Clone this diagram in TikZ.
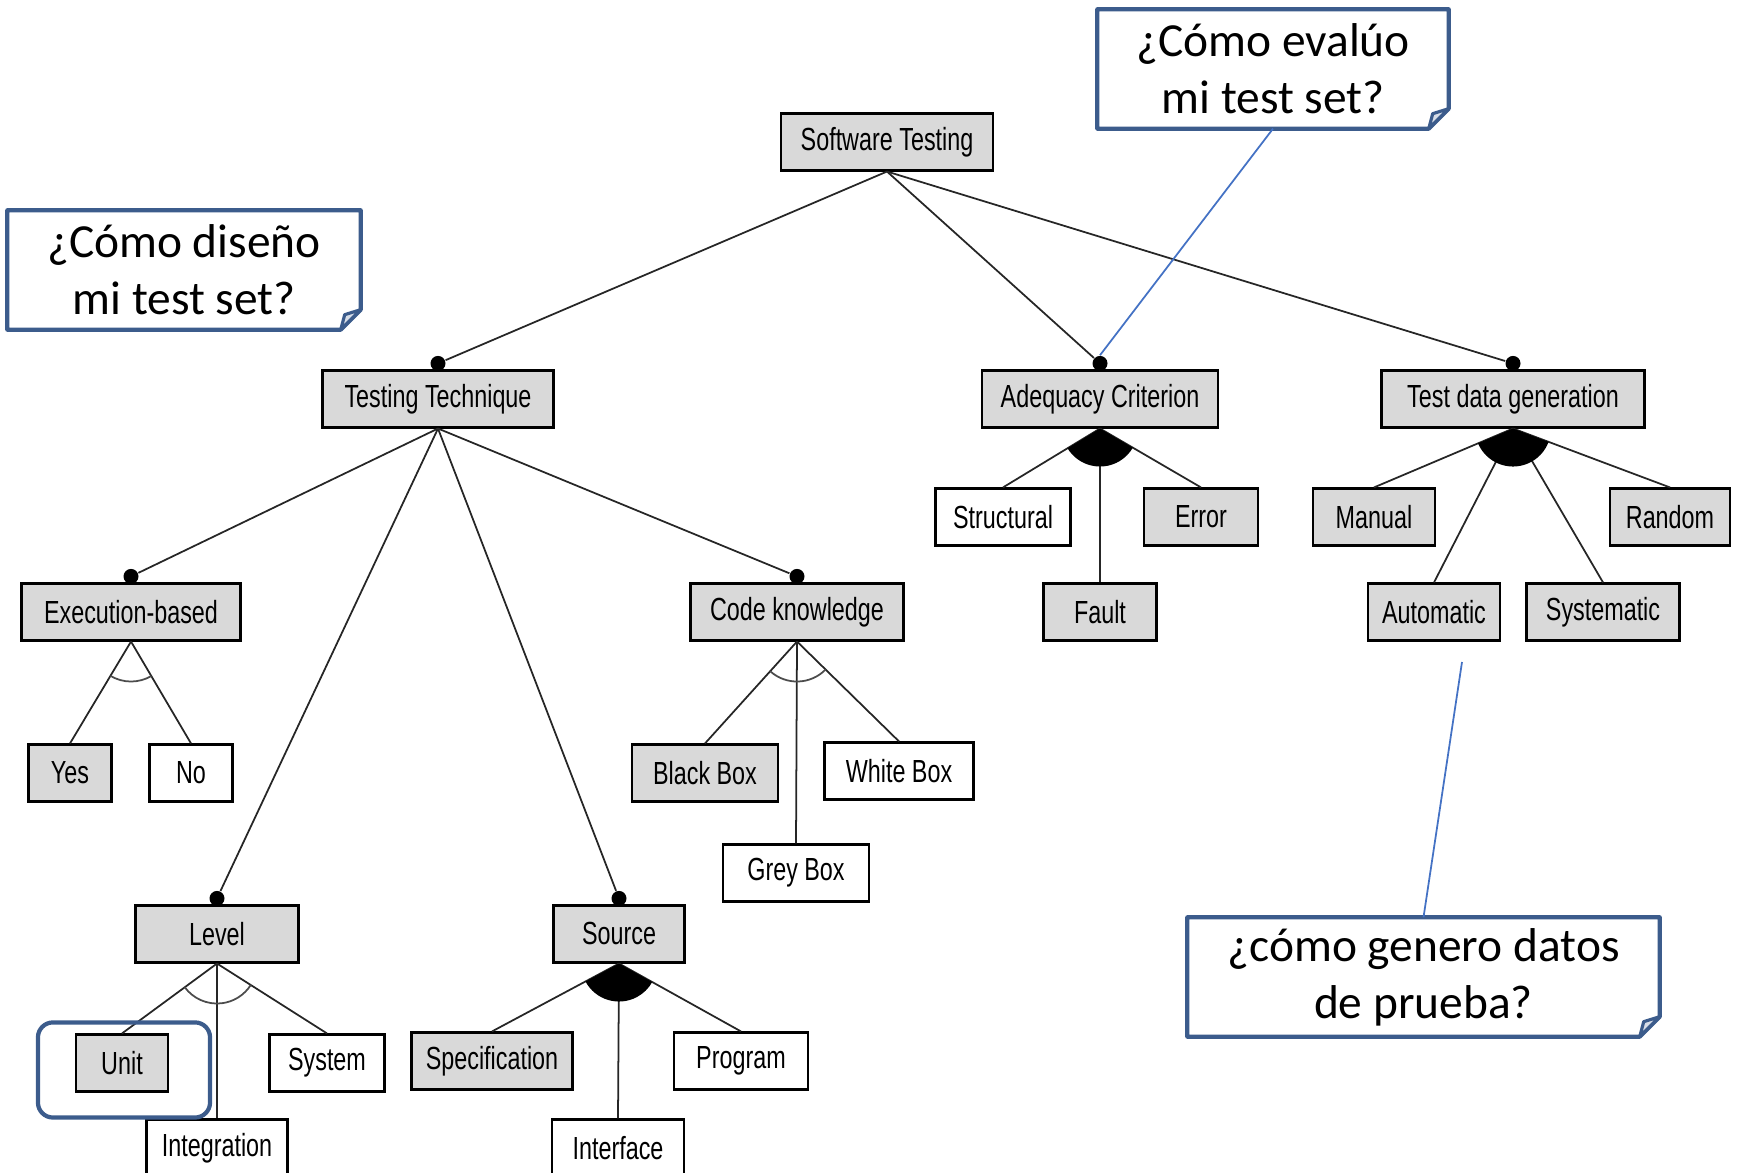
\documentclass[tikz,border=0pt]{standalone}
\usepackage{fontspec}
\usetikzlibrary{calc}
\newfontfamily\boxfont[FakeStretch=0.73]{Liberation Sans}
\newfontfamily\notefont{Carlito}
\definecolor{notecol}{RGB}{60,92,140}
\definecolor{linkcol}{RGB}{68,114,196}
\definecolor{boxgray}{RGB}{217,217,217}

\tikzset{
  feat/.style={draw, line width=0.6pt, inner sep=0pt, minimum height=0.57cm,
    font=\boxfont\fontsize{9.1}{11}\selectfont},
  on/.style={feat, fill=boxgray},
  off/.style={feat, fill=white},
  mand/.style={circle, fill=black, inner sep=0pt, minimum size=0.15cm},
  edge/.style={line width=0.5pt, black!85},
  note/.style={align=center, inner sep=0pt, minimum height=1.18cm,
    font=\notefont\fontsize{13.5}{16.2}\selectfont},
  link/.style={linkcol, line width=0.5pt}
}

% filled (or) and open (alternative) group marks
\newcommand{\orarc}[3]{\fill let \p1=($(#2.north)-(#1.south)$), \p2=($(#3.north)-(#1.south)$),
  \n1={atan2(\y1,\x1)}, \n2={atan2(\y2,\x2)} in
  (#1.south) -- ++(\n1:0.38) arc[start angle=\n1, end angle=\n2, radius=0.38] -- cycle;}
\newcommand{\altarc}[3]{\draw[black!70, line width=0.5pt] let \p1=($(#2.north)-(#1.south)$), \p2=($(#3.north)-(#1.south)$),
  \n1={atan2(\y1,\x1)}, \n2={atan2(\y2,\x2)} in
  ($(#1.south)+(\n1:0.4)$) arc[start angle=\n1, end angle=\n2, radius=0.4];}
% callout frame with folded corner
\newcommand{\notebox}[1]{\draw[notecol, line width=1.2pt, line join=round]
  (#1.north west) -- (#1.north east) -- ([yshift=0.2cm]#1.south east)
  -- ([xshift=-0.2cm]#1.south east) -- (#1.south west) -- cycle;
  \draw[notecol, line width=0.9pt, line join=round, fill=notecol!20]
  ([xshift=-0.2cm]#1.south east) -- ++(0.04,0.15) -- ([yshift=0.2cm]#1.south east) -- cycle;}

\begin{document}
\begin{tikzpicture}
		\useasboundingbox (0,0) rectangle (17.38,11.73);
		\clip (0,0) rectangle (17.38,11.73);
		
		% ROOT AND FIRST LEVEL
		\node[on, minimum width=2.12cm] (soft) at (8.87,10.31) {Software Testing};
		\node[on, minimum width=2.31cm] (tech) at (4.38,7.74) {Testing Technique};
		\node[on, minimum width=2.36cm] (adeq) at (11.00,7.74) {Adequacy Criterion};
		\node[on, minimum width=2.63cm] (tdg) at (15.13,7.74) {Test data generation};
		
		% ADEQUACY AND DATA GENERATION
		\node[off, minimum width=1.35cm] (struct) at (10.03,6.56) {Structural};
		\node[on, minimum width=1.14cm] (error) at (12.01,6.56) {Error};
		\node[on, minimum width=1.13cm] (fault) at (11.00,5.61) {Fault};
		\node[on, minimum width=1.22cm] (manual) at (13.74,6.56) {Manual};
		\node[on, minimum width=1.20cm] (random) at (16.70,6.56) {Random};
		\node[on, minimum width=1.32cm] (auto) at (14.34,5.61) {Automatic};
		\node[on, minimum width=1.53cm] (syst) at (16.03,5.61) {Systematic};
		
		% TECHNIQUE
		\node[on, minimum width=2.19cm] (exec) at (1.31,5.61) {Execution-based};
		\node[on, minimum width=0.83cm] (yes) at (0.70,4.00) {Yes};
		\node[off, minimum width=0.83cm] (no) at (1.91,4.00) {No};
		\node[on, minimum width=2.13cm] (code) at (7.97,5.61) {Code knowledge};
		\node[on, minimum width=1.46cm] (black) at (7.05,4.00) {Black Box};
		\node[off, minimum width=1.49cm] (white) at (8.99,4.02) {White Box};
		\node[off, minimum width=1.46cm] (grey) at (7.96,3.00) {Grey Box};
		\node[on, minimum width=1.63cm] (level) at (2.17,2.39) {Level};
		\node[on, minimum width=0.92cm] (unit) at (1.22,1.10) {Unit};
		\node[off, minimum width=1.15cm] (system) at (3.27,1.10) {System};
		\node[off, minimum width=1.41cm] (integ) at (2.17,0.25) {Integration};
		\node[on, minimum width=1.31cm] (source) at (6.19,2.39) {Source};
		\node[on, minimum width=1.61cm] (spec) at (4.92,1.12) {Specification};
		\node[off, minimum width=1.34cm] (program) at (7.41,1.12) {Program};
		\node[off, minimum width=1.32cm] (interf) at (6.18,0.25) {Interface};
		
		% MANDATORY DOTS
		\foreach \f in {tech,adeq,tdg,exec,code,level,source}
			\node[mand] (\f dot) at ([yshift=0.06cm]\f.north) {};
		
		% EDGES
		\foreach \c in {techdot,adeqdot,tdgdot}
			\draw[edge] (soft.south) -- (\c);
		\foreach \c in {execdot,codedot,leveldot,sourcedot}
			\draw[edge] (tech.south) -- (\c);
		\foreach \p/\c in {adeq/struct,adeq/error,adeq/fault,tdg/manual,tdg/random,tdg/auto,tdg/syst,
				exec/yes,exec/no,code/black,code/white,code/grey,level/unit,level/system,level/integ,
				source/spec,source/program,source/interf}
			\draw[edge] (\p.south) -- (\c.north);
		
		% GROUP MARKS
		\orarc{adeq}{struct}{error}
		\orarc{tdg}{manual}{random}
		\orarc{source}{spec}{program}
		\altarc{exec}{yes}{no}
		\altarc{code}{black}{white}
		\altarc{level}{unit}{system}
		
		% CALLOUTS
		\node[note, minimum width=3.52cm] (design) at (1.84,9.03) {¿Cómo diseño\\mi test set?};
		\node[note, minimum width=3.50cm] (assess) at (12.73,11.04) {¿Cómo evalúo\\mi test set?};
		\node[note, minimum width=4.71cm] (gen) at (14.235,1.96) {¿cómo genero datos\\de prueba?};
		\notebox{design}
		\notebox{assess}
		\notebox{gen}
		\coordinate (genend) at (14.62,5.11);
		\draw[link] (assess.south) -- (adeqdot.north);
		\draw[link] (genend) -- (gen.north);
		
		% HIGHLIGHT UNIT
		\draw[notecol, line width=1.2pt, rounded corners=0.15cm]
			([shift={(-0.37,0.11)}]unit.north west) rectangle ([shift={(0.41,-0.25)}]unit.south east);
	\end{tikzpicture}
\end{document}
